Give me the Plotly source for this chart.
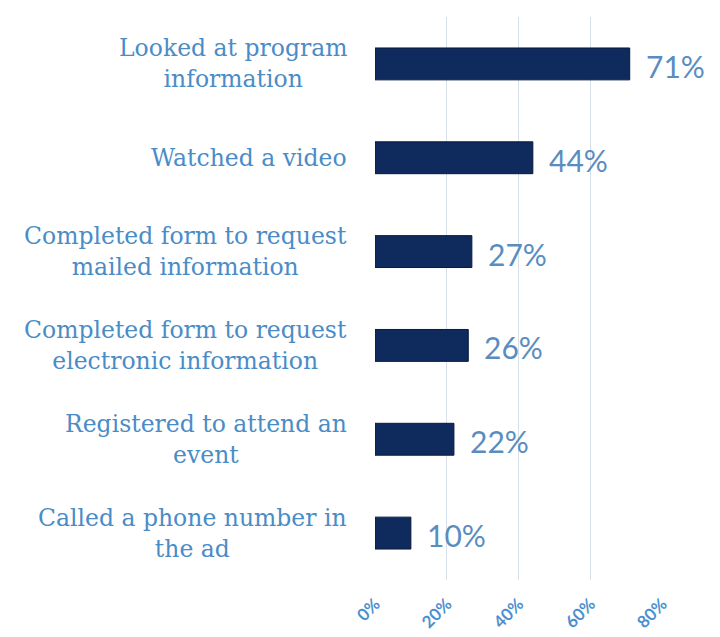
import plotly.graph_objects as go

categories = [
    "Looked at program<br>information",
    "Watched a video",
    "Completed form to request<br>mailed information",
    "Completed form to request<br>electronic information",
    "Registered to attend an<br>event",
    "Called a phone number in<br>the ad",
]
values = [0.71, 0.44, 0.27, 0.26, 0.22, 0.10]
value_labels = ["71%", "44%", "27%", "26%", "22%", "10%"]
tick_vals = [0, 0.2, 0.4, 0.6, 0.8]
tick_text = ["0%", "20%", "40%", "60%", "80%"]

bar_color = "#0f2a5c"
label_blue = "#4a8cc6"

fig = go.Figure(
    go.Bar(
        x=values,
        y=categories,
        orientation="h",
        marker=dict(color=bar_color, line=dict(color="#081a3c", width=1)),
        cliponaxis=False,
    )
)

# category labels, centered line-by-line and right-aligned to the axis
for cat in categories:
    fig.add_annotation(
        x=0, xref="paper", y=cat, yref="y",
        text=cat, showarrow=False,
        xanchor="right", align="center", xshift=-26,
        font=dict(family="DejaVu Serif", size=23.5, color=label_blue),
    )

# value labels to the right of each bar
for cat, val, lab in zip(categories, values, value_labels):
    fig.add_annotation(
        x=val, xref="x", y=cat, yref="y",
        text=lab, showarrow=False,
        xanchor="left", xshift=14, yshift=-2,
        font=dict(family="Lato", size=30, color="#5a8dbf"),
    )

fig.update_layout(
    width=720, height=637,
    margin=dict(l=375, r=58, t=17, b=57),
    plot_bgcolor="white", paper_bgcolor="white",
    showlegend=False,
    bargap=0.66,
)
fig.update_xaxes(
    range=[0, 0.8],
    tickvals=tick_vals, ticktext=tick_text,
    tickangle=-45,
    tickfont=dict(family="Lato", size=17, color="#4a90d0", weight="bold"),
    showgrid=True, gridcolor="#d6e0ea", gridwidth=1,
    zeroline=False, showline=False,
    ticklabelstandoff=10,
    automargin=False,
)
fig.update_yaxes(
    autorange="reversed",
    showticklabels=False,
    showgrid=False, zeroline=False, showline=False,
    automargin=False,
)

fig.write_html("out.html")
